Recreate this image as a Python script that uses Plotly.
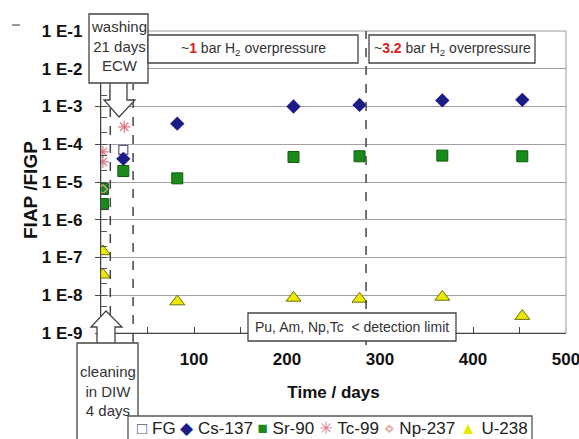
import plotly.graph_objects as go

# ---------------- data ----------------
fg_days = [24]
fg_vals = [7.1e-5]

cs_days = [24, 82, 207, 278, 367, 453]
cs_vals = [4.1e-5, 3.5e-4, 1.0e-3, 1.1e-3, 1.45e-3, 1.5e-3]

sr_days = [2, 2, 24, 82, 207, 278, 367, 453]
sr_vals = [2.6e-6, 6.5e-6, 1.95e-5, 1.25e-5, 4.6e-5, 4.8e-5, 5.0e-5, 4.8e-5]

tc_days = [2, 2, 25]
tc_vals = [6.3e-5, 3.4e-5, 2.9e-4]

np_days = [2]
np_vals = [6.5e-6]

u_days = [2, 2, 82, 207, 278, 367, 453]
u_vals = [1.45e-7, 3.5e-8, 6.8e-9, 8.5e-9, 8.0e-9, 9.0e-9, 2.8e-9]

x_tickvals = [100, 200, 300, 400, 500]
x_ticktext = ["100", "200", "300", "400", "500"]
y_tickvals = [1e-9, 1e-8, 1e-7, 1e-6, 1e-5, 1e-4, 1e-3, 1e-2, 1e-1]
y_ticktext = ["1 E-9", "1 E-8", "1 E-7", "1 E-6", "1 E-5", "1 E-4", "1 E-3", "1 E-2", "1 E-1"]

series_names = ["FG", "Cs-137", "Sr-90", "Tc-99", "Np-237", "U-238"]
series_colors = ["#5a5a85", "#1c1c86", "#1a8a1a", "#e07888", "#e8a090", "#e8e800"]
legend_glyphs = ["□", "◆", "■", "✳", "⋄", "▲"]

# ---------------- layout geometry (pixels) ----------------
W, H = 579, 439
L, R, T, B = 101, 566, 31, 333


def px(x):
    return (x - L) / (R - L)


def py(y):
    return (B - y) / (B - T)


FONT = "Liberation Sans, Arial, sans-serif"

fig = go.Figure()

fig.add_trace(go.Scatter(x=fg_days, y=fg_vals, mode="markers", name=series_names[0],
                         marker=dict(symbol="square-open", size=9, color=series_colors[0],
                                     line=dict(width=1.2))))
fig.add_trace(go.Scatter(x=cs_days, y=cs_vals, mode="markers", name=series_names[1],
                         marker=dict(symbol="diamond", size=11, color=series_colors[1],
                                     line=dict(width=0))))
fig.add_trace(go.Scatter(x=sr_days, y=sr_vals, mode="markers", name=series_names[2],
                         marker=dict(symbol="square", size=11, color=series_colors[2],
                                     line=dict(width=1, color="#0d5e0d"))))
fig.add_trace(go.Scatter(x=tc_days, y=tc_vals, mode="markers", name=series_names[3],
                         marker=dict(symbol="asterisk-open", size=10, color=series_colors[3],
                                     line=dict(width=1.2, color=series_colors[3]))))
fig.add_trace(go.Scatter(x=np_days, y=np_vals, mode="markers", name=series_names[4],
                         marker=dict(symbol="diamond-open", size=7, color=series_colors[4],
                                     line=dict(width=1.2, color=series_colors[4]))))
fig.add_trace(go.Scatter(x=u_days, y=u_vals, mode="markers", name=series_names[5],
                         marker=dict(symbol="triangle-up", size=13, color=series_colors[5],
                                     line=dict(width=1, color="#70700a"))))

shapes = []
shapes.append(dict(type="rect", xref="paper", yref="paper", x0=0, x1=1, y0=0, y1=1,
                   line=dict(color="#9a9a9a", width=1), layer="below"))
shapes.append(dict(type="line", xref="x", yref="paper", x0=10, x1=10,
                   y0=py(333), y1=py(84), line=dict(color="#444", width=1.5, dash="dash")))
shapes.append(dict(type="line", xref="x", yref="paper", x0=34.5, x1=34.5,
                   y0=py(360), y1=py(84), line=dict(color="#444", width=1.5, dash="dash")))
shapes.append(dict(type="line", xref="x", yref="paper", x0=285, x1=285,
                   y0=py(345), y1=py(31), line=dict(color="#444", width=1.5, dash="dash")))


def box(x0, y0, x1, y1, color="#444"):
    return dict(type="rect", xref="paper", yref="paper", x0=px(x0), x1=px(x1),
                y0=py(y1), y1=py(y0), fillcolor="white",
                line=dict(color=color, width=1.3), layer="above")


def poly(points):
    d = "M " + " L ".join(f"{px(a):.5f},{py(b):.5f}" for a, b in points) + " Z"
    return dict(type="path", xref="paper", yref="paper", path=d, fillcolor="white",
                line=dict(color="#444", width=1.3), layer="above")


shapes.append(poly([(110, 82), (110, 100), (104, 100), (119, 117), (135, 100),
                    (127, 100), (127, 82)]))
shapes.append(box(89, 14, 148, 83))
shapes.append(poly([(97, 344), (97, 327), (91, 327), (106, 311), (122, 327),
                    (115, 327), (115, 344)]))
shapes.append(box(77, 343, 138, 440))
shapes.append(box(148, 35, 358, 63))
shapes.append(box(369, 35, 535, 63))
shapes.append(box(248, 313, 456, 341))
# legend box
shapes.append(box(128, 416, 532, 441, color="#555"))
shapes.append(dict(type="line", xref="paper", yref="paper", x0=px(12), x1=px(20),
                   y0=py(25), y1=py(25), line=dict(color="#777", width=1.5)))

annotations = []


def txt(x, y, s, size=14, color="#333", angle=0):
    annotations.append(dict(x=px(x), y=py(y), xref="paper", yref="paper", text=s,
                            showarrow=False, xanchor="center", yanchor="middle",
                            textangle=angle,
                            font=dict(family=FONT, size=size, color=color)))


txt(118.5, 46, "washing<br>21 days<br>ECW", size=15)
txt(107.5, 391, "cleaning<br>in DIW<br>4 days", size=15)
txt(253, 49, "~<b><span style='color:#e02020'>1</span></b> bar H<sub>2</sub> overpressure", size=14)
txt(452, 49, "~<b><span style='color:#e02020'>3.2</span></b> bar H<sub>2</sub> overpressure", size=14)
txt(352, 327, "Pu, Am, Np,Tc  &lt; detection limit", size=14)
txt(30, 190, "<b>FIAP /FIGP</b>", size=19, color="#111", angle=-90)

legend_parts = []
for g, n, c in zip(legend_glyphs, series_names, series_colors):
    legend_parts.append(f"<span style='color:{c}'>{g}</span> {n}")
txt(332, 428, " ".join(legend_parts), size=17, color="#222")

fig.update_layout(
    width=W, height=H,
    margin=dict(l=L, r=W - R, t=T, b=H - B, pad=0, autoexpand=False),
    paper_bgcolor="white", plot_bgcolor="white",
    font=dict(family=FONT, color="#222"),
    shapes=shapes, annotations=annotations,
    showlegend=False,
    xaxis=dict(range=[0, 500], tickvals=x_tickvals, ticktext=x_ticktext,
               ticks="inside", ticklen=6, tickcolor="#444",
               minor=dict(ticks="inside", ticklen=6, tickcolor="#444",
                          tick0=0, dtick=50, showgrid=False),
               showline=True, linecolor="#444", linewidth=1.3,
               showgrid=False, zeroline=False, automargin=False,
               ticklabelstandoff=10, ticklabeloverflow="allow",
               tickfont=dict(family=FONT, size=17, color="#111", weight="bold"),
               title=dict(text="<b>Time / days</b>", standoff=18,
                          font=dict(family=FONT, size=17, color="#111"))),
    yaxis=dict(type="log", range=[-9, -1], tickvals=y_tickvals, ticktext=y_ticktext,
               ticks="outside", ticklen=5, tickcolor="#444",
               showline=True, linecolor="#444", linewidth=1.3,
               showgrid=True, gridcolor="#a0a0a0", gridwidth=1, automargin=False,
               ticklabelstandoff=9, ticklabeloverflow="allow",
               minor=dict(ticks="inside", ticklen=6, tickcolor="#555", showgrid=False),
               tickfont=dict(family=FONT, size=17, color="#111", weight="bold")),
)

fig.write_html("out.html")
